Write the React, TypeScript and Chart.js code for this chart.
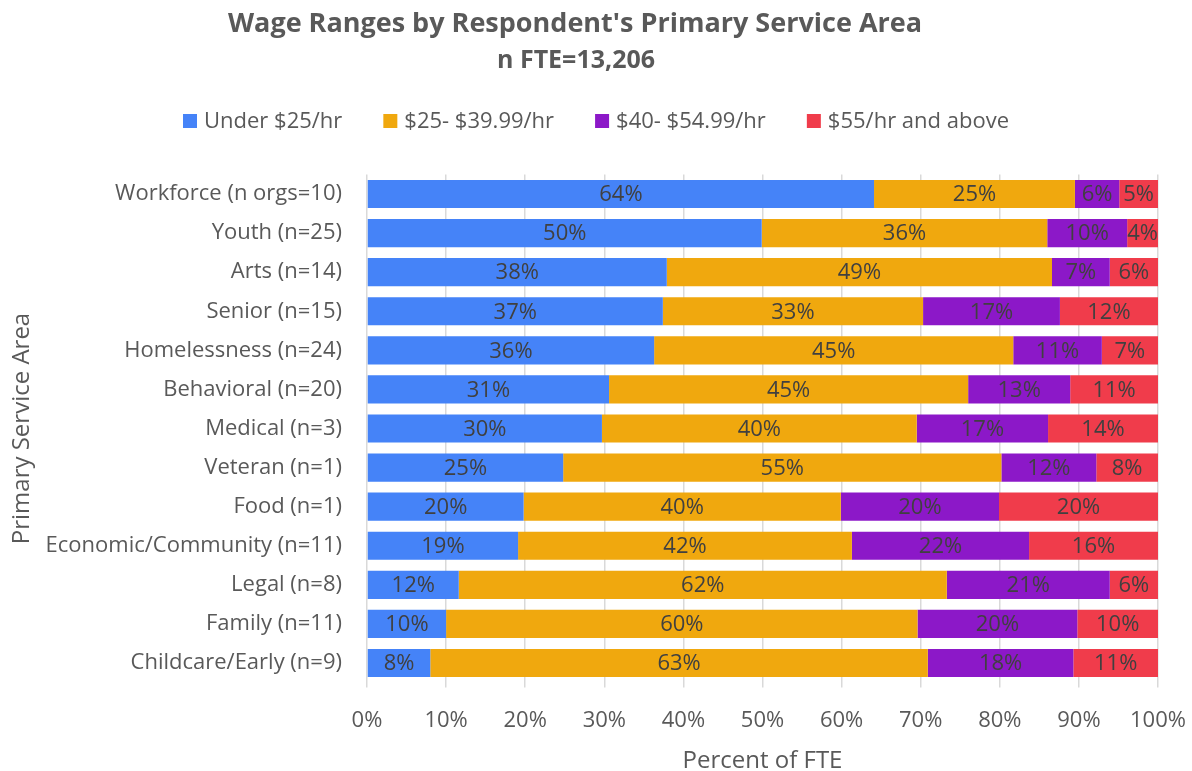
import React, { useEffect, useRef } from "react";
import { Chart, registerables } from "chart.js";

Chart.register(...registerables);

const FONT = "'Open Sans', 'Noto Sans', sans-serif";

const TITLE = "Wage Ranges by Respondent's Primary Service Area";
const SUBTITLE = "n FTE=13,206";
const X_TITLE = "Percent of FTE";
const Y_TITLE = "Primary Service Area";

const categories = [
  "Workforce (n orgs=10)",
  "Youth (n=25)",
  "Arts (n=14)",
  "Senior (n=15)",
  "Homelessness (n=24)",
  "Behavioral (n=20)",
  "Medical (n=3)",
  "Veteran (n=1)",
  "Food (n=1)",
  "Economic/Community (n=11)",
  "Legal (n=8)",
  "Family (n=11)",
  "Childcare/Early (n=9)",
];

const seriesNames = ["Under $25/hr", "$25- $39.99/hr", "$40- $54.99/hr", "$55/hr and above"];
const seriesColors = ["#4583F8", "#F0A80E", "#8C18C8", "#F03C4B"];

const under25 = [64.1, 49.9, 37.9, 37.4, 36.3, 30.6, 29.7, 24.8, 19.8, 19.1, 11.6, 10.0, 8.0];
const from25to40 = [25.4, 36.1, 48.7, 32.9, 45.4, 45.4, 39.8, 55.4, 40.1, 42.2, 61.7, 59.6, 62.9];
const from40to55 = [5.6, 10.1, 7.3, 17.3, 11.2, 12.9, 16.6, 12.0, 20.0, 22.4, 20.6, 20.2, 18.4];
const over55 = [4.9, 3.9, 6.1, 12.4, 7.1, 11.1, 13.9, 7.8, 20.1, 16.3, 6.1, 10.2, 10.7];

const xTicks = [0, 10, 20, 30, 40, 50, 60, 70, 80, 90, 100];

const overlay = {
  id: "overlay",
  afterDatasetsDraw(chart: any) {
    const ctx = chart.ctx;
    ctx.save();
    ctx.font = `22px ${FONT}`;
    ctx.fillStyle = "#404040";
    ctx.textAlign = "center";
    ctx.textBaseline = "middle";
    chart.data.datasets.forEach((ds: any, di: number) => {
      const meta = chart.getDatasetMeta(di);
      meta.data.forEach((bar: any, i: number) => {
        const v = ds.data[i];
        const p = bar.getProps(["x", "y", "base"], true);
        ctx.fillText(Math.round(v) + "%", (p.x + p.base) / 2, p.y + 1);
      });
    });
    ctx.restore();
  },
  afterDraw(chart: any) {
    const ctx = chart.ctx;
    ctx.save();
    ctx.fillStyle = "#595959";
    ctx.textAlign = "center";
    ctx.textBaseline = "middle";
    ctx.font = `bold 27px ${FONT}`;
    ctx.fillText(TITLE, 575, 24);
    ctx.font = `bold 25px ${FONT}`;
    ctx.fillText(SUBTITLE, 576, 61);

    // legend
    ctx.font = `22px ${FONT}`;
    const box = 14, gapBT = 7, gapItem = 41;
    const widths = seriesNames.map((n) => ctx.measureText(n).width);
    const total = widths.reduce((a, b) => a + b + box + gapBT, 0) + gapItem * (seriesNames.length - 1);
    let x = 596 - total / 2;
    const y = 121;
    ctx.textAlign = "left";
    seriesNames.forEach((n, i) => {
      ctx.fillStyle = seriesColors[i];
      ctx.fillRect(x, y - box / 2, box, box);
      ctx.fillStyle = "#595959";
      ctx.fillText(n, x + box + gapBT, y + 1);
      x += box + gapBT + widths[i] + gapItem;
    });
    ctx.restore();
  },
};

export default function App() {
  const ref = useRef<HTMLCanvasElement>(null);
  useEffect(() => {
    if (!ref.current) return;
    const data = [under25, from25to40, from40to55, over55];
    const chart = new Chart(ref.current, {
      type: "bar",
      data: {
        labels: categories,
        datasets: seriesNames.map((name, i) => ({
          label: name,
          data: data[i],
          backgroundColor: seriesColors[i],
          borderWidth: 0,
          barPercentage: 0.72,
          categoryPercentage: 1,
        })),
      },
      options: {
        indexAxis: "y",
        responsive: false,
        animation: false,
        layout: { padding: { top: 174.5, right: 34, left: 0, bottom: 0 } },
        plugins: {
          legend: { display: false },
          title: { display: false },
          tooltip: { enabled: false },
        },
        scales: {
          x: {
            stacked: true,
            min: 0,
            max: 100,
            afterBuildTicks: (scale: any) => {
              scale.ticks = xTicks.map((v) => ({ value: v }));
            },
            afterFit: (scale: any) => {
              scale.height = 88.5;
              scale.paddingLeft = 0;
              scale.paddingRight = 0;
            },
            grid: { color: "#d9d9d9", lineWidth: 1.5, tickLength: 5, drawTicks: true },
            border: { display: false },
            ticks: {
              padding: 20,
              color: "#595959",
              font: { family: FONT, size: 22 },
              callback: (v: any) => v + "%",
            },
            title: {
              display: true,
              text: X_TITLE,
              color: "#595959",
              font: { family: FONT, size: 24 },
              padding: { top: 0, bottom: -5 },
            },
          },
          y: {
            stacked: true,
            afterFit: (scale: any) => {
              scale.width = 367;
              scale.paddingTop = 0;
              scale.paddingBottom = 0;
            },
            grid: { display: false, drawTicks: false },
            border: { display: false },
            ticks: {
              padding: 25,
              color: "#595959",
              font: { family: FONT, size: 22 },
            },
            title: {
              display: true,
              text: Y_TITLE,
              color: "#595959",
              font: { family: FONT, size: 24 },
              padding: { top: 8, bottom: 0 },
            },
          },
        },
      },
      plugins: [overlay],
    } as any);
    return () => chart.destroy();
  }, []);
  return (
    <div style={{ position: "fixed", left: 0, top: 0, width: 1192, height: 771, background: "#fff" }}>
      <canvas ref={ref} width={1192} height={771} style={{ display: "block" }} />
    </div>
  );
}
